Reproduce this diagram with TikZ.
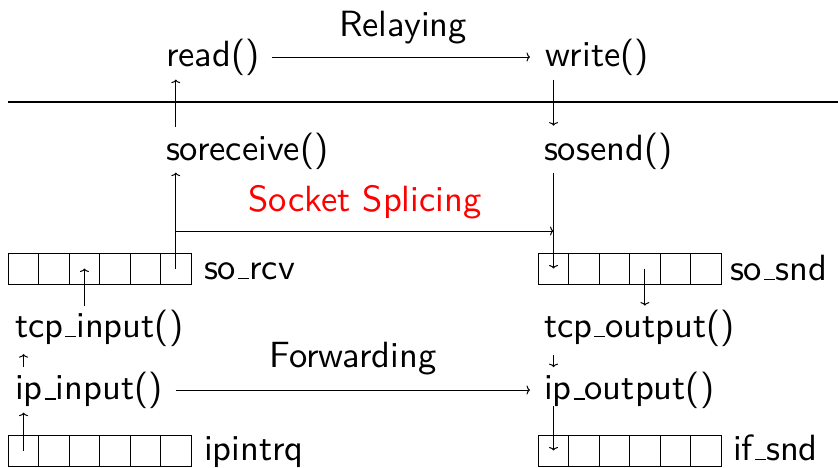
\documentclass[tikz,border=0pt]{standalone}
\usepackage{fontspec}
\setsansfont{lmsans10-regular.otf}
\usetikzlibrary{arrows.meta,calc}
% underscore drawn as a short rule on the baseline
\newcommand\usc{\leavevmode\kern.06em\vbox{\hrule width.3em height 1.5pt}}
\begin{document}
\begin{tikzpicture}[x=1pt,y=-1pt,
  line width=1pt,
  >={To[length=3.5pt,width=9pt]},
  txt/.style={inner sep=0pt, outer sep=0pt, anchor=base west,
    font=\sffamily\fontsize{36.5}{44}\selectfont},
  ctxt/.style={txt, anchor=base},
  cell/.style={draw, line width=1pt, minimum width=30.45pt,
    minimum height=31pt, inner sep=0pt, outer sep=0pt},
]
\useasboundingbox (0,0) rectangle (838,467);

% user / kernel boundary
\draw[line width=2pt] (8,102) -- (838,102);

% function names
\node[txt] (read)      at (166,66.5)  {read()};
\node[txt] (write)     at (545,66.5)  {write()};
\node[txt] (soreceive) at (166,160)   {soreceive()};
\node[txt] (sosend)    at (544,160)   {sosend()};
\node[txt] (tcpin)     at (15,337)    {tcp\usc input()};
\node[txt] (ipin)      at (15,399.5)  {ip\usc input()};
\node[txt] (tcpout)    at (544,337)   {tcp\usc output()};
\node[txt] (ipout)     at (544,399.5) {ip\usc output()};

% path labels
\node[ctxt] (relay)  at (403,36)  {Relaying};
\node[ctxt, text=red] (splice) at (365,211) {Socket Splicing};
\node[ctxt] (fwd)    at (353,367) {Forwarding};

% socket and interface buffers
\foreach \i in {1,...,6} {
  \node[cell] (rcv\i) at ({8.3+30.45*(\i-0.5)},268.5) {};
  \node[cell] (ipq\i) at ({8.3+30.45*(\i-0.5)},450.5) {};
  \node[cell] (snd\i) at ({538.3+30.45*(\i-0.5)},268.5) {};
  \node[cell] (ifs\i) at ({538.3+30.45*(\i-0.5)},450.5) {};
}
\node[txt] (rcvlbl) at (204,279) {so\usc rcv};
\node[txt] (ipqlbl) at (204,460) {ipintrq};
\node[txt] (sndlbl) at (730,280) {so\usc snd};
\node[txt] (ifslbl) at (733,460) {if\usc snd};

% relaying through user space
\draw[->] ($(soreceive.north -| rcv6)+(0,-6)$) -- ($(read.south -| rcv6)+(0,4)$);
\draw[->] ($(read.base east)+(12,-9.5)$) -- ($(write.base west)+(-15,-9.5)$);
\draw[->] ($(write.south -| snd1)+(0,4)$) -- ($(sosend.north -| snd1)+(0,-7)$);

% receive side
\draw[->] (ipq1.center) -- ($(ipin.south -| ipq1)+(0,4)$);
\draw[->] ($(ipin.north -| ipq1)+(0,-5)$) -- ($(tcpin.south -| ipq1)+(0,8)$);
\draw[->] ($(tcpin.north -| rcv3)+(0,-3.5)$) -- (rcv3.center);
\draw[->] (rcv6.center) -- ($(soreceive.south -| rcv6)+(0,3.5)$);

% splicing shortcut
\coordinate (fork) at (rcv6 |- 0,231);
\draw[->] (fork) -- (fork -| snd1);

% send side
\draw[->] ($(sosend.south -| snd1)+(0,4)$) -- (snd1.center);
\draw[->] (snd4.center) -- ($(tcpout.north -| snd4)+(0,-4)$);
\draw[->] ($(tcpout.south -| snd1)+(0,9)$) -- ($(ipout.north -| snd1)+(0,-5)$);
\draw[->] ($(ipout.south -| ifs1)+(0,-3)$) -- (ifs1.center);

% forwarding in the kernel
\draw[->] ($(ipin.base east)+(13,-9.5)$) -- ($(ipout.base west)+(-14,-9.5)$);
\end{tikzpicture}
\end{document}
